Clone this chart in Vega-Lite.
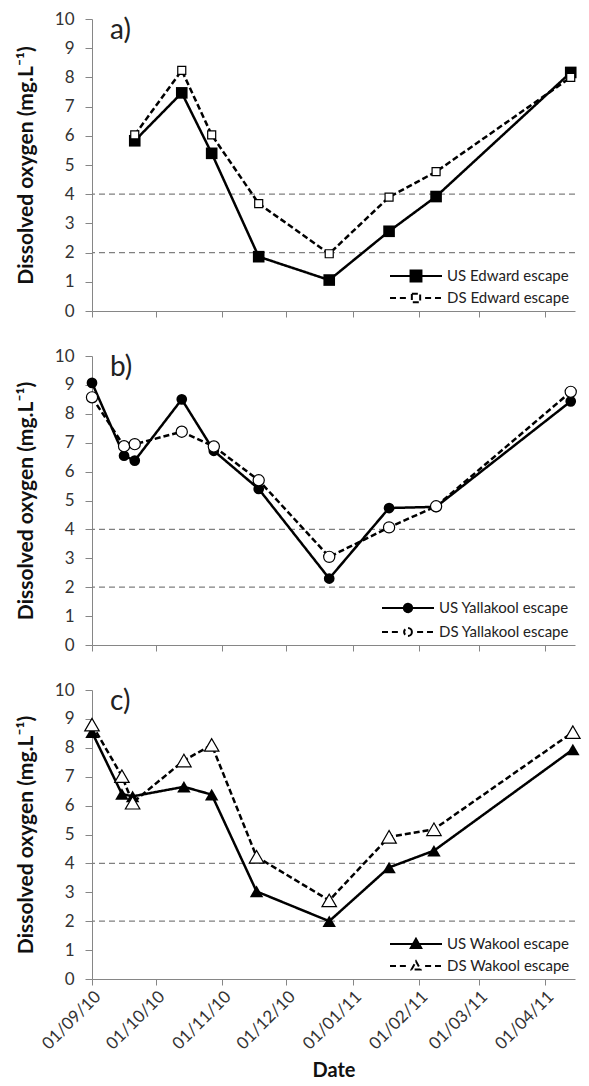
{
  "$schema": "https://vega.github.io/schema/vega-lite/v6.json",
  "padding": {"left": 15, "top": 10, "right": 5, "bottom": 5},
  "bounds": "flush",
  "spacing": 45,
  "datasets": {
    "thresholds": [{"value": 2}, {"value": 4}],
    "obs": [
      {"panel": "a", "series": "US Edward escape", "date": "2010-09-21T00:00:00", "value": 5.83},
      {"panel": "a", "series": "US Edward escape", "date": "2010-10-13T00:00:00", "value": 7.47},
      {"panel": "a", "series": "US Edward escape", "date": "2010-10-27T00:00:00", "value": 5.4},
      {"panel": "a", "series": "US Edward escape", "date": "2010-11-18T00:00:00", "value": 1.86},
      {"panel": "a", "series": "US Edward escape", "date": "2010-12-21T00:00:00", "value": 1.06},
      {"panel": "a", "series": "US Edward escape", "date": "2011-01-18T00:00:00", "value": 2.73},
      {"panel": "a", "series": "US Edward escape", "date": "2011-02-09T00:00:00", "value": 3.92},
      {"panel": "a", "series": "US Edward escape", "date": "2011-04-13T00:00:00", "value": 8.17},
      {"panel": "a", "series": "DS Edward escape", "date": "2010-09-21T00:00:00", "value": 6.03},
      {"panel": "a", "series": "DS Edward escape", "date": "2010-10-13T00:00:00", "value": 8.24},
      {"panel": "a", "series": "DS Edward escape", "date": "2010-10-27T00:00:00", "value": 6.03},
      {"panel": "a", "series": "DS Edward escape", "date": "2010-11-18T00:00:00", "value": 3.68},
      {"panel": "a", "series": "DS Edward escape", "date": "2010-12-21T00:00:00", "value": 1.96},
      {"panel": "a", "series": "DS Edward escape", "date": "2011-01-18T00:00:00", "value": 3.9},
      {"panel": "a", "series": "DS Edward escape", "date": "2011-02-09T00:00:00", "value": 4.77},
      {"panel": "a", "series": "DS Edward escape", "date": "2011-04-13T00:00:00", "value": 8.0},
      {"panel": "b", "series": "US Yallakool escape", "date": "2010-09-01T00:00:00", "value": 9.07},
      {"panel": "b", "series": "US Yallakool escape", "date": "2010-09-16T00:00:00", "value": 6.55},
      {"panel": "b", "series": "US Yallakool escape", "date": "2010-09-21T00:00:00", "value": 6.38},
      {"panel": "b", "series": "US Yallakool escape", "date": "2010-10-13T00:00:00", "value": 8.5},
      {"panel": "b", "series": "US Yallakool escape", "date": "2010-10-28T00:00:00", "value": 6.72},
      {"panel": "b", "series": "US Yallakool escape", "date": "2010-11-18T00:00:00", "value": 5.4},
      {"panel": "b", "series": "US Yallakool escape", "date": "2010-12-21T00:00:00", "value": 2.3},
      {"panel": "b", "series": "US Yallakool escape", "date": "2011-01-18T00:00:00", "value": 4.74},
      {"panel": "b", "series": "US Yallakool escape", "date": "2011-02-09T00:00:00", "value": 4.78},
      {"panel": "b", "series": "US Yallakool escape", "date": "2011-04-13T00:00:00", "value": 8.43},
      {"panel": "b", "series": "DS Yallakool escape", "date": "2010-09-01T00:00:00", "value": 8.57},
      {"panel": "b", "series": "DS Yallakool escape", "date": "2010-09-16T00:00:00", "value": 6.88},
      {"panel": "b", "series": "DS Yallakool escape", "date": "2010-09-21T00:00:00", "value": 6.95},
      {"panel": "b", "series": "DS Yallakool escape", "date": "2010-10-13T00:00:00", "value": 7.38},
      {"panel": "b", "series": "DS Yallakool escape", "date": "2010-10-28T00:00:00", "value": 6.87},
      {"panel": "b", "series": "DS Yallakool escape", "date": "2010-11-18T00:00:00", "value": 5.7},
      {"panel": "b", "series": "DS Yallakool escape", "date": "2010-12-21T00:00:00", "value": 3.05},
      {"panel": "b", "series": "DS Yallakool escape", "date": "2011-01-18T00:00:00", "value": 4.07},
      {"panel": "b", "series": "DS Yallakool escape", "date": "2011-02-09T00:00:00", "value": 4.8},
      {"panel": "b", "series": "DS Yallakool escape", "date": "2011-04-13T00:00:00", "value": 8.76},
      {"panel": "c", "series": "US Wakool escape", "date": "2010-09-01T00:00:00", "value": 8.54},
      {"panel": "c", "series": "US Wakool escape", "date": "2010-09-15T00:00:00", "value": 6.4},
      {"panel": "c", "series": "US Wakool escape", "date": "2010-09-20T00:00:00", "value": 6.32},
      {"panel": "c", "series": "US Wakool escape", "date": "2010-10-14T00:00:00", "value": 6.65},
      {"panel": "c", "series": "US Wakool escape", "date": "2010-10-27T00:00:00", "value": 6.38},
      {"panel": "c", "series": "US Wakool escape", "date": "2010-11-17T00:00:00", "value": 3.03},
      {"panel": "c", "series": "US Wakool escape", "date": "2010-12-21T00:00:00", "value": 2.0},
      {"panel": "c", "series": "US Wakool escape", "date": "2011-01-18T00:00:00", "value": 3.86},
      {"panel": "c", "series": "US Wakool escape", "date": "2011-02-08T00:00:00", "value": 4.44},
      {"panel": "c", "series": "US Wakool escape", "date": "2011-04-14T00:00:00", "value": 7.94},
      {"panel": "c", "series": "DS Wakool escape", "date": "2010-09-01T00:00:00", "value": 8.8},
      {"panel": "c", "series": "DS Wakool escape", "date": "2010-09-15T00:00:00", "value": 7.02},
      {"panel": "c", "series": "DS Wakool escape", "date": "2010-09-20T00:00:00", "value": 6.1},
      {"panel": "c", "series": "DS Wakool escape", "date": "2010-10-14T00:00:00", "value": 7.56},
      {"panel": "c", "series": "DS Wakool escape", "date": "2010-10-27T00:00:00", "value": 8.1},
      {"panel": "c", "series": "DS Wakool escape", "date": "2010-11-17T00:00:00", "value": 4.23},
      {"panel": "c", "series": "DS Wakool escape", "date": "2010-12-21T00:00:00", "value": 2.72},
      {"panel": "c", "series": "DS Wakool escape", "date": "2011-01-18T00:00:00", "value": 4.92},
      {"panel": "c", "series": "DS Wakool escape", "date": "2011-02-08T00:00:00", "value": 5.18},
      {"panel": "c", "series": "DS Wakool escape", "date": "2011-04-14T00:00:00", "value": 8.54}
    ]
  },
  "resolve": {
    "scale": {"strokeDash": "independent"},
    "legend": {"strokeDash": "independent"}
  },
  "vconcat": [
    {
      "width": 483,
      "height": 292,
      "title": {"text": "a)", "anchor": "start", "frame": "group", "offset": 0, "dy": 57, "dx": 18, "fontSize": 28, "font": "Lato", "fontWeight": "normal", "baseline": "alphabetic", "color": "#222"},
      "encoding": {
        "y": {"field": "value", "type": "quantitative", "scale": {"domain": [0, 10], "nice": false},
              "axis": {"title": "Dissolved oxygen (mg.L⁻¹)", "values": [0,1,2,3,4,5,6,7,8,9,10], "format": "d"}}
      },
      "layer": [
        {"data": {"name": "thresholds"}, "mark": {"type": "rule", "color": "#808080", "strokeDash": [6, 4], "strokeWidth": 1.2}, "encoding": {}},
        {"data": {"name": "obs"}, "transform": [{"filter": "datum.panel == 'a'"}],
         "mark": {"type": "line", "color": "black", "strokeWidth": 2.5},
         "encoding": {
           "x": {"field": "date", "type": "temporal",
                 "scale": {"domain": [{"year": 2010, "month": 9, "date": 1}, {"year": 2011, "month": 4, "date": 15}], "nice": false},
                 "axis": {"values": [{"year": 2010, "month": 9, "date": 1}, {"year": 2010, "month": 10, "date": 1}, {"year": 2010, "month": 11, "date": 1}, {"year": 2010, "month": 12, "date": 1}, {"year": 2011, "month": 1, "date": 1}, {"year": 2011, "month": 2, "date": 1}, {"year": 2011, "month": 3, "date": 1}, {"year": 2011, "month": 4, "date": 1}], "labels": false, "title": null}},
           "strokeDash": {"field": "series", "type": "nominal",
             "scale": {"domain": ["US Edward escape", "DS Edward escape"], "range": [[1, 0], [6, 3]]},
             "legend": {
               "orient": "bottom-right", "offset": 5, "padding": 0, "title": null,
               "symbolSize": 2704, "symbolStrokeWidth": 2, "symbolStrokeColor": "black", "symbolDash": [],
               "labelFont": "Lato", "labelFontSize": 15, "labelColor": "#222", "labelOffset": 4,
               "clipHeight": 16, "rowPadding": 6,
               "encode": {"symbols": {"update": {
                 "shape": {"signal": "datum.value == 'US Edward escape' ? 'M-1,0H1M-0.21,-0.21H0.21V0.21H-0.21Z' : 'M-1,0H-0.73M-0.62,0H-0.35M0.35,0H0.62M0.73,0H1M-0.16,-0.16H0.16V0.16H-0.16Z'"},
                 "fill": {"signal": "datum.value == 'US Edward escape' ? 'black' : 'white'"},
                 "fillOpacity": {"value": 1},
                 "stroke": {"value": "black"},
                 "strokeWidth": {"value": 2},
                 "strokeOpacity": {"value": 1},
                 "opacity": {"value": 1},
                 "strokeDash": {"value": [1, 0]}
               }}}
             }}
         }},
        {"data": {"name": "obs"}, "transform": [{"filter": "datum.series == 'US Edward escape'"}],
         "mark": {"type": "point", "shape": "square", "filled": true, "color": "black", "size": 135, "opacity": 1},
         "encoding": {"x": {"field": "date", "type": "temporal"}}},
        {"data": {"name": "obs"}, "transform": [{"filter": "datum.series == 'DS Edward escape'"}],
         "mark": {"type": "point", "shape": "square", "filled": true, "fill": "white", "stroke": "black", "strokeWidth": 1.2, "size": 64, "opacity": 1},
         "encoding": {"x": {"field": "date", "type": "temporal"}}}
      ]
    },
    {
      "width": 483,
      "height": 289,
      "title": {"text": "b)", "anchor": "start", "frame": "group", "offset": 0, "dy": 57, "dx": 18, "fontSize": 28, "font": "Lato", "fontWeight": "normal", "baseline": "alphabetic", "color": "#222"},
      "encoding": {
        "y": {"field": "value", "type": "quantitative", "scale": {"domain": [0, 10], "nice": false},
              "axis": {"title": "Dissolved oxygen (mg.L⁻¹)", "values": [0,1,2,3,4,5,6,7,8,9,10], "format": "d"}}
      },
      "layer": [
        {"data": {"name": "thresholds"}, "mark": {"type": "rule", "color": "#808080", "strokeDash": [6, 4], "strokeWidth": 1.2}, "encoding": {}},
        {"data": {"name": "obs"}, "transform": [{"filter": "datum.panel == 'b'"}],
         "mark": {"type": "line", "color": "black", "strokeWidth": 2.5},
         "encoding": {
           "x": {"field": "date", "type": "temporal",
                 "scale": {"domain": [{"year": 2010, "month": 9, "date": 1}, {"year": 2011, "month": 4, "date": 15}], "nice": false},
                 "axis": {"values": [{"year": 2010, "month": 9, "date": 1}, {"year": 2010, "month": 10, "date": 1}, {"year": 2010, "month": 11, "date": 1}, {"year": 2010, "month": 12, "date": 1}, {"year": 2011, "month": 1, "date": 1}, {"year": 2011, "month": 2, "date": 1}, {"year": 2011, "month": 3, "date": 1}, {"year": 2011, "month": 4, "date": 1}], "labels": false, "title": null}},
           "strokeDash": {"field": "series", "type": "nominal",
             "scale": {"domain": ["US Yallakool escape", "DS Yallakool escape"], "range": [[1, 0], [6, 3]]},
             "legend": {
               "orient": "bottom-right", "offset": 5, "padding": 0, "title": null,
               "symbolSize": 2704, "symbolStrokeWidth": 2, "symbolStrokeColor": "black", "symbolDash": [],
               "labelFont": "Lato", "labelFontSize": 15, "labelColor": "#222", "labelOffset": 4,
               "clipHeight": 16, "rowPadding": 8,
               "encode": {"symbols": {"update": {
                 "shape": {"signal": "datum.value == 'US Yallakool escape' ? 'M-1,0H1M0.16,0A0.16,0.16,0,1,1,-0.16,0A0.16,0.16,0,1,1,0.16,0Z' : 'M-1,0H-0.73M-0.62,0H-0.35M0.35,0H0.62M0.73,0H1M0.15,0A0.15,0.15,0,1,1,-0.15,0A0.15,0.15,0,1,1,0.15,0Z'"},
                 "fill": {"signal": "datum.value == 'US Yallakool escape' ? 'black' : 'white'"},
                 "fillOpacity": {"value": 1},
                 "stroke": {"value": "black"},
                 "strokeWidth": {"value": 2},
                 "strokeOpacity": {"value": 1},
                 "opacity": {"value": 1},
                 "strokeDash": {"value": [1, 0]}
               }}}
             }}
         }},
        {"data": {"name": "obs"}, "transform": [{"filter": "datum.series == 'US Yallakool escape'"}],
         "mark": {"type": "point", "shape": "circle", "filled": true, "color": "black", "size": 115, "opacity": 1},
         "encoding": {"x": {"field": "date", "type": "temporal"}}},
        {"data": {"name": "obs"}, "transform": [{"filter": "datum.series == 'DS Yallakool escape'"}],
         "mark": {"type": "point", "shape": "circle", "filled": true, "fill": "white", "stroke": "black", "strokeWidth": 1.2, "size": 125, "opacity": 1},
         "encoding": {"x": {"field": "date", "type": "temporal"}}}
      ]
    },
    {
      "width": 483,
      "height": 289,
      "title": {"text": "c)", "anchor": "start", "frame": "group", "offset": 0, "dy": 57, "dx": 18, "fontSize": 28, "font": "Lato", "fontWeight": "normal", "baseline": "alphabetic", "color": "#222"},
      "encoding": {
        "y": {"field": "value", "type": "quantitative", "scale": {"domain": [0, 10], "nice": false},
              "axis": {"title": "Dissolved oxygen (mg.L⁻¹)", "values": [0,1,2,3,4,5,6,7,8,9,10], "format": "d"}}
      },
      "layer": [
        {"data": {"name": "thresholds"}, "mark": {"type": "rule", "color": "#808080", "strokeDash": [6, 4], "strokeWidth": 1.2}, "encoding": {}},
        {"data": {"name": "obs"}, "transform": [{"filter": "datum.panel == 'c'"}],
         "mark": {"type": "line", "color": "black", "strokeWidth": 2.5},
         "encoding": {
           "x": {"field": "date", "type": "temporal",
                 "scale": {"domain": [{"year": 2010, "month": 9, "date": 1}, {"year": 2011, "month": 4, "date": 15}], "nice": false},
                 "axis": {"values": [{"year": 2010, "month": 9, "date": 1}, {"year": 2010, "month": 10, "date": 1}, {"year": 2010, "month": 11, "date": 1}, {"year": 2010, "month": 12, "date": 1}, {"year": 2011, "month": 1, "date": 1}, {"year": 2011, "month": 2, "date": 1}, {"year": 2011, "month": 3, "date": 1}, {"year": 2011, "month": 4, "date": 1}], "format": "%d/%m/%y", "labelAngle": -45, "labelOverlap": false, "labelBound": false, "title": "Date"}},
           "strokeDash": {"field": "series", "type": "nominal",
             "scale": {"domain": ["US Wakool escape", "DS Wakool escape"], "range": [[1, 0], [6, 3]]},
             "legend": {
               "orient": "bottom-right", "offset": 5, "padding": 0, "title": null,
               "symbolSize": 2704, "symbolStrokeWidth": 2, "symbolStrokeColor": "black", "symbolDash": [],
               "labelFont": "Lato", "labelFontSize": 15, "labelColor": "#222", "labelOffset": 4,
               "clipHeight": 16, "rowPadding": 6,
               "encode": {"symbols": {"update": {
                 "shape": {"signal": "datum.value == 'US Wakool escape' ? 'M-1,0H1M0,-0.2L0.2,0.15H-0.2Z' : 'M-1,0H-0.73M-0.62,0H-0.35M0.35,0H0.62M0.73,0H1M0,-0.18L0.17,0.13H-0.17Z'"},
                 "fill": {"signal": "datum.value == 'US Wakool escape' ? 'black' : 'white'"},
                 "fillOpacity": {"value": 1},
                 "stroke": {"value": "black"},
                 "strokeWidth": {"value": 2},
                 "strokeOpacity": {"value": 1},
                 "opacity": {"value": 1},
                 "strokeDash": {"value": [1, 0]}
               }}}
             }}
         }},
        {"data": {"name": "obs"}, "transform": [{"filter": "datum.series == 'US Wakool escape'"}],
         "mark": {"type": "point", "shape": "triangle-up", "filled": true, "color": "black", "size": 180, "opacity": 1},
         "encoding": {"x": {"field": "date", "type": "temporal"}}},
        {"data": {"name": "obs"}, "transform": [{"filter": "datum.series == 'DS Wakool escape'"}],
         "mark": {"type": "point", "shape": "triangle-up", "filled": true, "fill": "white", "stroke": "black", "strokeWidth": 1.2, "size": 210, "opacity": 1},
         "encoding": {"x": {"field": "date", "type": "temporal"}}}
      ]
    }
  ],
  "config": {
    "font": "Lato",
    "view": {"stroke": null},
    "axis": {"domainColor": "#868686", "tickColor": "#868686", "labelColor": "#333333", "labelFont": "Lato", "labelFontSize": 17, "titleFont": "Lato", "titleColor": "#111111", "grid": false},
    "axisY": {"tickSize": 7, "labelPadding": 11, "titlePadding": 18, "titleFontSize": 21, "titleFontWeight": "bold"},
    "axisX": {"tickSize": 6, "labelPadding": 3, "titlePadding": 8, "titleFontSize": 20, "titleFontWeight": "bold"}
  }
}
